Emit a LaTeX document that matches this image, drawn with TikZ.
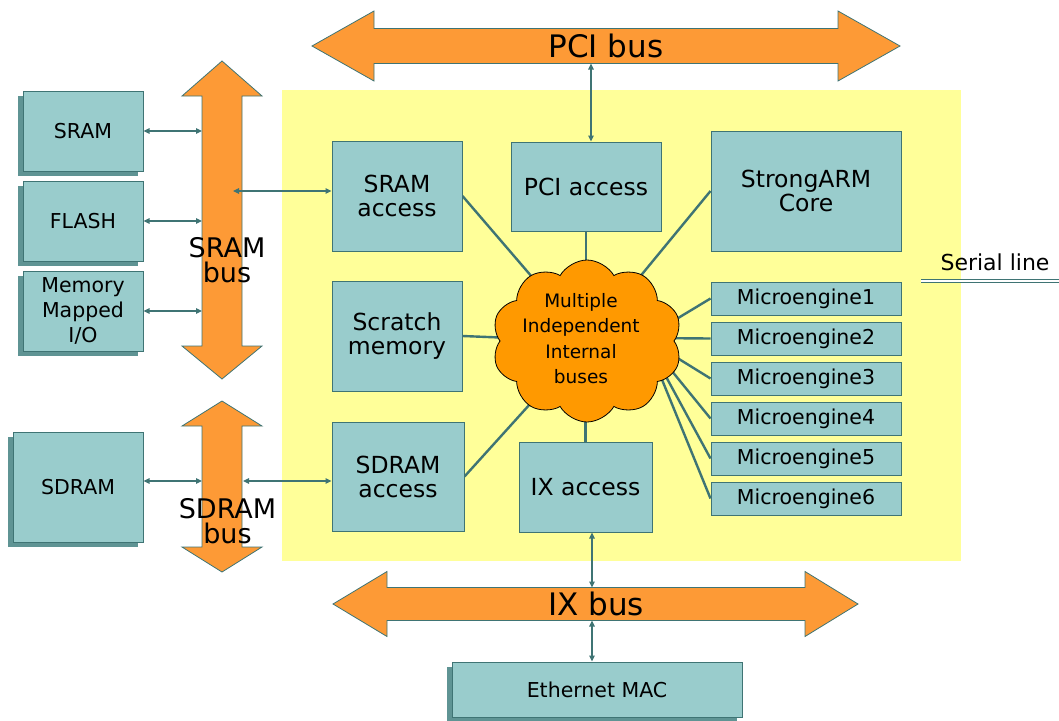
\documentclass[tikz,border=0pt]{standalone}
\usepackage{fontspec}
\setmainfont{DejaVu Sans}
\usetikzlibrary{shapes.symbols,arrows.meta,shadows,calc}
\definecolor{bgyellow}{HTML}{FFFF99}
\definecolor{boxfill}{HTML}{99CCCC}
\definecolor{lineteal}{HTML}{3F7474}
\definecolor{busorange}{HTML}{FD9A36}
\definecolor{cloudorange}{HTML}{FF9900}
\definecolor{shadowteal}{HTML}{5F9494}
\pgfdeclarelayer{back}
\pgfdeclarelayer{edges}
\pgfsetlayers{back,edges,main}
\begin{document}
\begin{tikzpicture}[x=1pt,y=-1pt,
  box/.style={draw=lineteal,fill=boxfill,line width=1pt,inner sep=0pt,align=center,text=black},
  bigtext/.style={font=\fontsize{23.5}{24}\selectfont},
  smalltext/.style={font=\fontsize{20.5}{25}\selectfont},
  memshadow/.style={general shadow={fill=shadowteal,shadow xshift=-5pt,shadow yshift=-5pt}},
  busarrow/.style={fill=busorange,draw=lineteal,line width=0.8pt,line join=miter},
  conn/.style={draw=lineteal,line width=1.1pt,arrows={Triangle[length=6pt,width=5.5pt]-Triangle[length=6pt,width=5.5pt]}},
  hubline/.style={draw=lineteal,line width=2.4pt},
  buslabel/.style={font=\fontsize{27}{25}\selectfont,align=center,inner sep=0pt},
  hbuslabel/.style={font=\fontsize{31}{31}\selectfont,inner sep=0pt}
]
\useasboundingbox (0,0) rectangle (1059,720);

% yellow chip area
\begin{pgfonlayer}{back}
\fill[bgyellow] (282,90) rectangle (961,561);
\end{pgfonlayer}

% buses (block arrows)
\draw[busarrow] (312,46) -- (374,11) -- (374,28.5) -- (838,28.5) -- (838,11) -- (900,46)
  -- (838,81) -- (838,63.5) -- (374,63.5) -- (374,81) -- cycle;
\draw[busarrow] (333,604) -- (387,571.5) -- (387,587.5) -- (805,587.5) -- (805,571.5) -- (858,604)
  -- (805,636.5) -- (805,620.5) -- (387,620.5) -- (387,636.5) -- cycle;
\draw[busarrow] (222,61) -- (262,96) -- (242,96) -- (242,346) -- (262,346) -- (222,379)
  -- (182,346) -- (202,346) -- (202,96) -- (182,96) -- cycle;
\draw[busarrow] (222,401) -- (262,426) -- (242,426) -- (242,547) -- (262,547) -- (222,572)
  -- (182,547) -- (202,547) -- (202,426) -- (182,426) -- cycle;

\node[hbuslabel] (pcilabel) at (606,46) {PCI bus};
\node[hbuslabel] (ixlabel) at (596,604) {IX bus};
\node[buslabel] (sramlabel) at (227,260) {SRAM\\bus};
\node[buslabel] (sdramlabel) at (227.5,521) {SDRAM\\bus};

% external memories
\node[box,smalltext,memshadow,minimum width=120pt,minimum height=80pt] (sram) at (83,131) {SRAM};
\node[box,smalltext,memshadow,minimum width=120pt,minimum height=80pt] (flash) at (83,221) {FLASH};
\node[box,smalltext,memshadow,minimum width=120pt,minimum height=80pt] (mmio) at (83,311) {Memory\\Mapped\\I/O};
\node[box,smalltext,memshadow,minimum width=130pt,minimum height=110pt] (sdram) at (78,487) {SDRAM};
\node[box,smalltext,memshadow,minimum width=290pt,minimum height=55pt] (eth) at (597,689.5) {Ethernet MAC};

% internal units
\node[box,bigtext,minimum width=130pt,minimum height=110pt] (sramacc) at (397,196) {SRAM\\access};
\node[box,bigtext,minimum width=130pt,minimum height=110pt] (scratch) at (397,336) {Scratch\\memory};
\node[box,bigtext,minimum width=132pt,minimum height=109pt] (sdramacc) at (398,476.5) {SDRAM\\access};
\node[box,bigtext,minimum width=150pt,minimum height=89pt] (pciacc) at (586,186.5) {PCI access};
\node[box,bigtext,minimum width=133pt,minimum height=90pt] (ixacc) at (585.5,487) {IX access};
\node[box,bigtext,minimum width=190pt,minimum height=120pt] (strongarm) at (806,191) {StrongARM\\Core};
\foreach \i/\y in {1/298.5,2/338.5,3/378.5,4/418.5,5/458.5,6/498.5}
  \node[box,smalltext,minimum width=190pt,minimum height=33pt] (me\i) at (806,\y) {Microengine\i};

% cloud
\node[cloud,cloud puffs=10,cloud puff arc=120,cloud ignores aspect,draw=black,line width=0.8pt,
  fill=cloudorange,minimum width=190pt,minimum height=162pt,inner sep=0pt] (cloud) at (587,341) {};
\node[font=\fontsize{18.5}{25.5}\selectfont,align=center,inner sep=0pt] (cloudtext) at (581,338.5)
  {Multiple\\Independent\\Internal\\buses};
\coordinate (hub) at (645,338);

\begin{pgfonlayer}{edges}
\draw[hubline] (sramacc.east) -- (cloud.center);
\draw[hubline] (scratch.east) -- (cloud.center);
\draw[hubline] (sdramacc.east) -- (cloud.center);
\draw[hubline] (pciacc.south) -- (pciacc.south |- cloud.center);
\draw[hubline] (ixacc.north) -- (ixacc.north |- cloud.center);
\draw[hubline] (strongarm.west) -- (cloud.center);
\foreach \i in {1,...,6} \draw[hubline] (me\i.west) -- (hub);
\end{pgfonlayer}

% bus connectors
\coordinate (sbusL1) at (202,131);
\coordinate (sbusL2) at (202,221);
\coordinate (sbusL3) at (202,311);
\coordinate (sbusR) at (233,191);
\coordinate (sdbusL) at (202,481);
\coordinate (sdbusR) at (243,481);
\coordinate (pcibusS) at (591,63.5);
\coordinate (ixbusN) at (592,587.5);
\coordinate (ixbusS) at (592,620.5);

\draw[conn] (sram.east) -- (sbusL1);
\draw[conn] (flash.east) -- (sbusL2);
\draw[conn] (mmio.east) -- (sbusL3);
\draw[conn] (sbusR) -- (sbusR -| sramacc.west);
\draw[conn] (sdram.east |- sdbusL) -- (sdbusL);
\draw[conn] (sdbusR) -- (sdbusR -| sdramacc.west);
\draw[conn] (pcibusS) -- (pcibusS |- pciacc.north);
\draw[conn] (ixbusN) -- (ixbusN |- ixacc.south);
\draw[conn] (ixbusS) -- (ixbusS |- eth.north);

% serial line
\node[font=\fontsize{22}{24}\selectfont,inner sep=0pt] (serial) at (995,262) {Serial line};
\coordinate (sl1) at (921,281);
\coordinate (sl2) at (1059,281);
\draw[draw=lineteal,line width=1.1pt,double=white,double distance=1.2pt] (sl1) -- (sl2);
\end{tikzpicture}
\end{document}
